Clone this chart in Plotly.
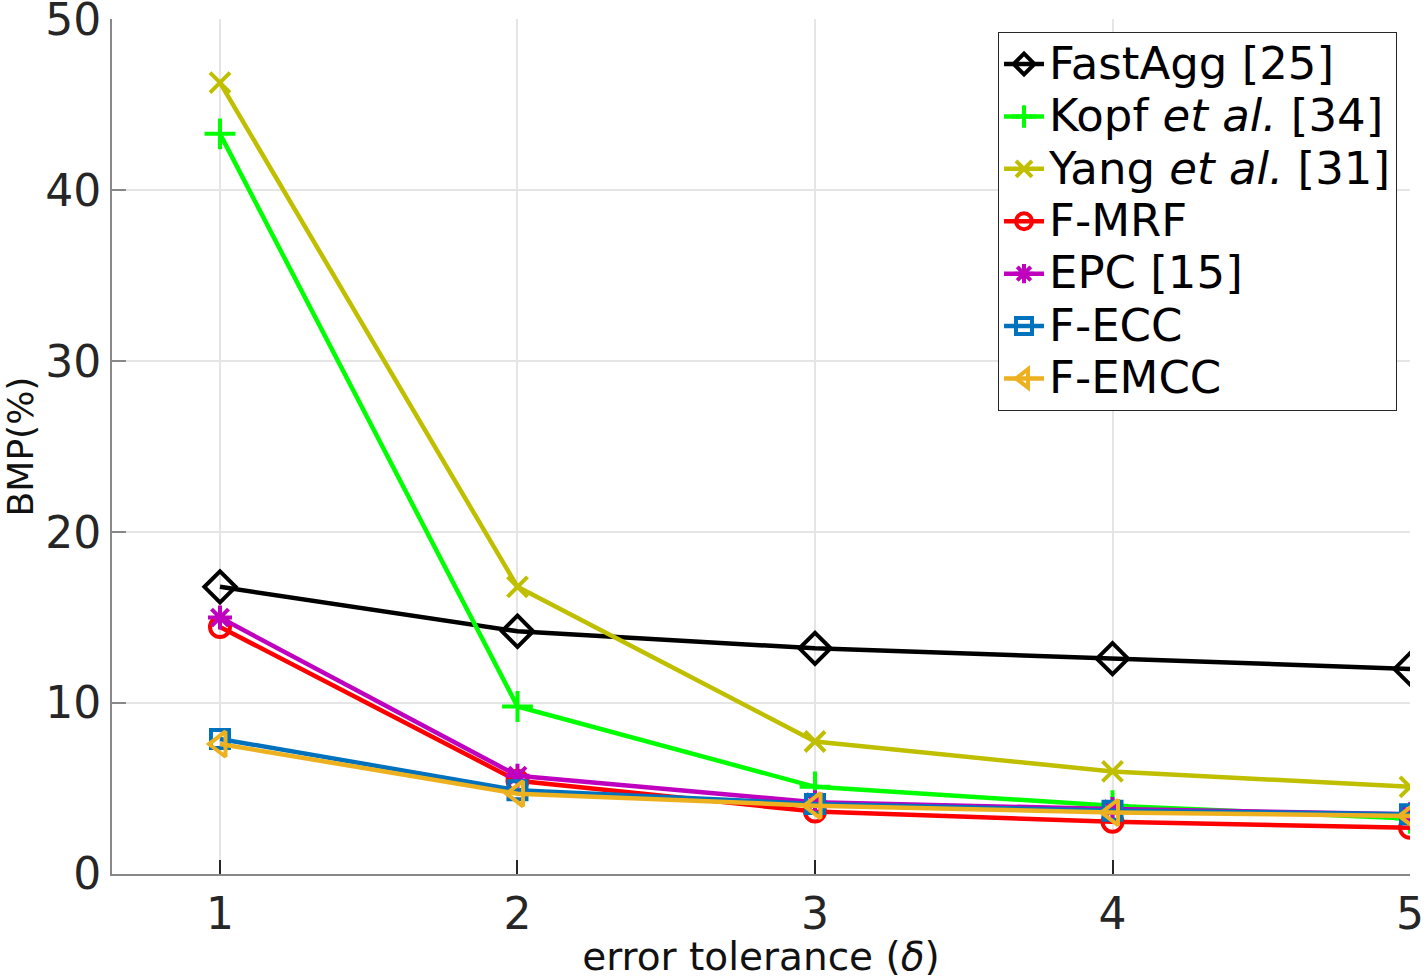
import plotly.graph_objects as go

# error tolerance values
delta = [1, 2, 3, 4, 5]

# BMP (%) per method
fastagg = [16.8, 14.2, 13.2, 12.6, 12.0]
kopf = [43.3, 9.8, 5.1, 4.0, 3.25]
yang = [46.3, 16.8, 7.75, 6.0, 5.1]
fmrf = [14.45, 5.45, 3.65, 3.05, 2.7]
epc = [15.0, 5.75, 4.2, 3.8, 3.5]
fecc = [7.9, 4.9, 4.1, 3.7, 3.5]
femcc = [7.6, 4.7, 4.0, 3.6, 3.4]

names = ['FastAgg [25]', 'Kopf <i>et al.</i> [34]', 'Yang <i>et al.</i> [31]',
         'F-MRF', 'EPC [15]', 'F-ECC', 'F-EMCC']
series = [fastagg, kopf, yang, fmrf, epc, fecc, femcc]
colors = ['#000000', '#00FF00', '#BFBF00', '#FF0000', '#BF00BF', '#0072BD', '#EDB120']
symbols = ['diamond-open', 'cross-thin-open', 'x-thin-open', 'circle-open',
           'asterisk-open', 'square-open', 'triangle-left-open']
sizes = [24, 22, 20, 20, 20, 18, 22]

fig = go.Figure()

for name, ys, col, sym, sz in zip(names, series, colors, symbols, sizes):
    fig.add_trace(go.Scatter(
        x=delta,
        y=ys,
        mode='lines+markers',
        # bigger text inside a tighter legend row
        name='<span style="font-size:45px">' + name + '</span>',
        line=dict(color=col, width=4.5),
        marker=dict(symbol=sym, size=sz, color=col, line=dict(color=col, width=4))
    ))

fig.update_layout(
    width=1424,
    height=979,
    paper_bgcolor='white',
    plot_bgcolor='white',
    font=dict(family='DejaVu Sans', color='#262626'),
    margin=dict(l=112, r=14, t=19, b=105),
    legend=dict(
        x=0.99, y=0.985, xanchor='right', yanchor='top',
        bgcolor='white', bordercolor='#262626', borderwidth=1,
        font=dict(size=38, color='black'),
        tracegroupgap=0, itemwidth=40
    ),
    xaxis=dict(
        range=[0.637, 5],
        tickvals=delta,
        tickfont=dict(size=44),
        ticks='inside', ticklen=14, tickwidth=1.5, tickcolor='#262626',
        ticklabeloverflow='allow',
        showline=True, linecolor='#888888', linewidth=2,
        showgrid=True, gridcolor='#E5E5E5', gridwidth=1.5,
        zeroline=False, automargin=False,
        title=dict(text='error tolerance (<i>δ</i>)', font=dict(size=39, color='#111111'), standoff=10)
    ),
    yaxis=dict(
        range=[0, 50.02],
        tickvals=[0, 10, 20, 30, 40, 50],
        tickfont=dict(size=44),
        ticks='inside', ticklen=14, tickwidth=1.5, tickcolor='#888888',
        ticklabeloverflow='allow',
        showline=True, linecolor='#888888', linewidth=2,
        showgrid=True, gridcolor='#E5E5E5', gridwidth=1.5,
        zeroline=False, automargin=False,
        title=dict(text='BMP(%)', font=dict(size=36, color='#111111'), standoff=20)
    )
)

# drop the default body margin so the figure fills the window
fig.write_html("out.html", config={'displayModeBar': False},
               post_script="document.body.style.margin='0px';")
